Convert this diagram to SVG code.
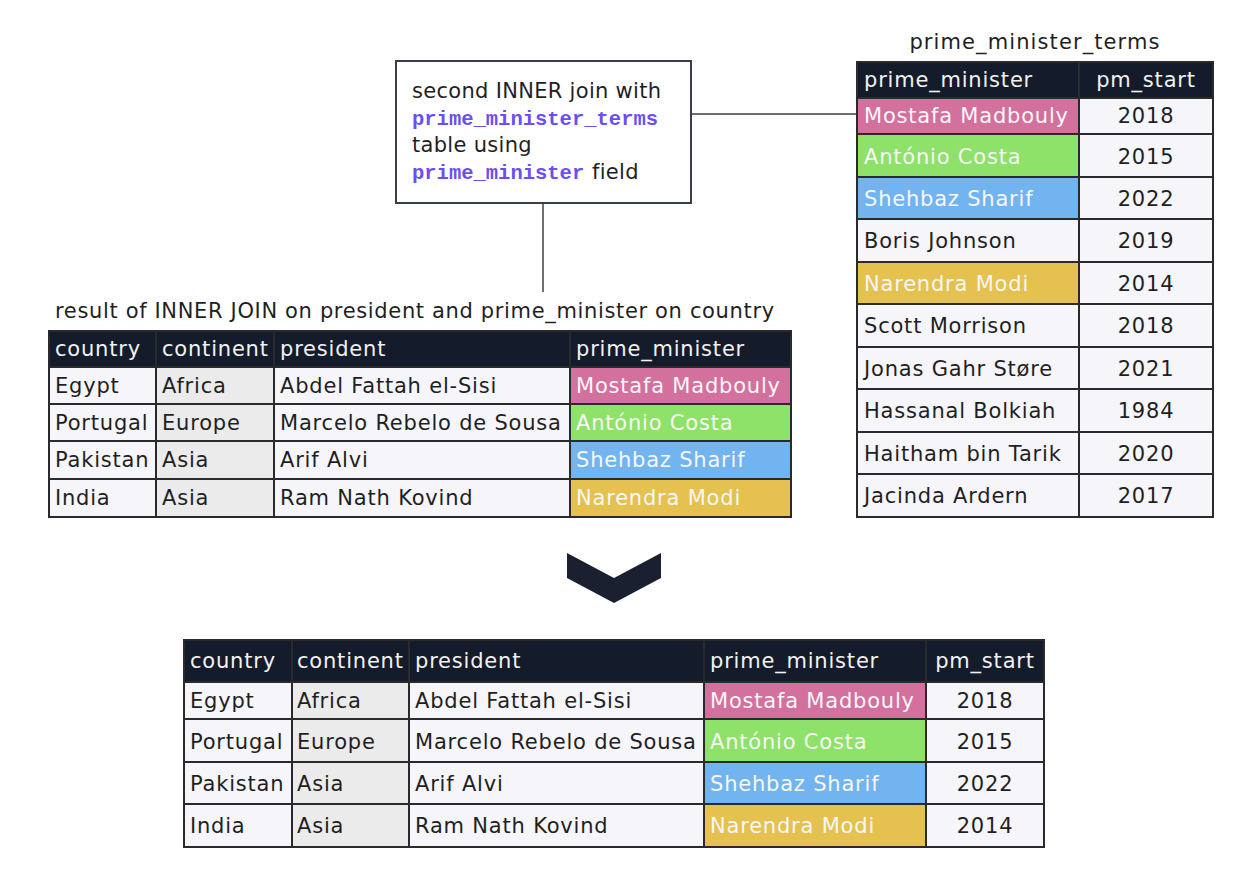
<svg xmlns="http://www.w3.org/2000/svg" width="1248" height="894" viewBox="0 0 1248 894">
<style>
text{font-family:"DejaVu Sans","Liberation Sans",sans-serif;font-size:21px;letter-spacing:0.8px;fill:#1f1f1f}
.h{fill:#f2f2f2}
.w{fill:#f7f7f7}
.c{text-anchor:middle}
.mono{font-family:"Liberation Mono","DejaVu Sans Mono",monospace;font-size:20.5px;font-weight:bold;fill:#6b4ef5;letter-spacing:0}
.cell{fill:#f5f5fa}
.alt{fill:#ebebeb}
.hdr{fill:#141b2a}
.pink{fill:#d4709d}
.green{fill:#8ee26a}
.blue{fill:#72b4f0}
.yellow{fill:#e5c14f}
.grid{stroke:#2a2a2a;stroke-width:2;fill:none}
.conn{stroke:#707070;stroke-width:2;fill:none}
</style>
<rect width="1248" height="894" fill="#ffffff"/>

<g id="connectors">
<line class="conn" x1="691" y1="114" x2="857" y2="114"/>
<line class="conn" x1="543" y1="203" x2="543" y2="292"/>
</g>

<g id="callout">
<rect x="396" y="61" width="295" height="142" fill="#ffffff" stroke="#3a3f4a" stroke-width="2"/>
<text x="412" y="98" style="letter-spacing:0.3px">second INNER join with</text>
<text x="412" y="125" class="mono">prime_minister_terms</text>
<text x="412" y="152" style="letter-spacing:0.3px">table using</text>
<text x="412" y="179" class="mono">prime_minister</text>
<text x="592" y="179" style="letter-spacing:0.3px">field</text>
</g>

<g id="pm_terms">
<text x="1035" y="49" class="c" style="letter-spacing:1.1px">prime_minister_terms</text>
<rect x="857" y="62" width="356" height="36" class="hdr"/>
<rect x="857" y="98" width="222" height="419" class="cell"/>
<rect x="1079" y="98" width="134" height="419" class="cell"/>
<rect x="857" y="98" width="222" height="36" class="pink"/>
<rect x="857" y="134" width="222" height="43" class="green"/>
<rect x="857" y="177" width="222" height="42" class="blue"/>
<rect x="857" y="262" width="222" height="42" class="yellow"/>
<path class="grid" d="M857 98H1213M857 134H1213M857 177H1213M857 219H1213M857 262H1213M857 304H1213M857 347H1213M857 389H1213M857 432H1213M857 474H1213M1079 62V517"/>
<rect x="857" y="62" width="356" height="455" class="grid"/>
<text x="864" y="87" class="h">prime_minister</text>
<text x="1146" y="87" class="h c">pm_start</text>
<text x="864" y="123" class="w">Mostafa Madbouly</text>
<text x="864" y="164" class="w">António Costa</text>
<text x="864" y="206" class="w">Shehbaz Sharif</text>
<text x="864" y="248">Boris Johnson</text>
<text x="864" y="291" class="w">Narendra Modi</text>
<text x="864" y="333">Scott Morrison</text>
<text x="864" y="376">Jonas Gahr Støre</text>
<text x="864" y="418">Hassanal Bolkiah</text>
<text x="864" y="461">Haitham bin Tarik</text>
<text x="864" y="503">Jacinda Ardern</text>
<text x="1146" y="123" class="c">2018</text>
<text x="1146" y="164" class="c">2015</text>
<text x="1146" y="206" class="c">2022</text>
<text x="1146" y="248" class="c">2019</text>
<text x="1146" y="291" class="c">2014</text>
<text x="1146" y="333" class="c">2018</text>
<text x="1146" y="376" class="c">2021</text>
<text x="1146" y="418" class="c">1984</text>
<text x="1146" y="461" class="c">2020</text>
<text x="1146" y="503" class="c">2017</text>
</g>

<g id="join_result">
<text x="55" y="318" style="letter-spacing:0.65px">result of INNER JOIN on president and prime_minister on country</text>
<rect x="49" y="331" width="742" height="36" class="hdr"/>
<rect x="49" y="367" width="521" height="150" class="cell"/>
<rect x="156" y="367" width="118" height="150" class="alt"/>
<rect x="570" y="367" width="221" height="37" class="pink"/>
<rect x="570" y="404" width="221" height="37" class="green"/>
<rect x="570" y="441" width="221" height="38" class="blue"/>
<rect x="570" y="479" width="221" height="38" class="yellow"/>
<path class="grid" d="M49 367H791M49 404H791M49 441H791M49 479H791M156 331V517M274 331V517M570 331V517"/>
<rect x="49" y="331" width="742" height="186" class="grid"/>
<text x="55" y="356" class="h">country</text>
<text x="162" y="356" class="h">continent</text>
<text x="280" y="356" class="h">president</text>
<text x="576" y="356" class="h">prime_minister</text>
<text x="55" y="393">Egypt</text>
<text x="55" y="430">Portugal</text>
<text x="55" y="467">Pakistan</text>
<text x="55" y="505">India</text>
<text x="162" y="393">Africa</text>
<text x="162" y="430">Europe</text>
<text x="162" y="467">Asia</text>
<text x="162" y="505">Asia</text>
<text x="280" y="393">Abdel Fattah el-Sisi</text>
<text x="280" y="430">Marcelo Rebelo de Sousa</text>
<text x="280" y="467">Arif Alvi</text>
<text x="280" y="505">Ram Nath Kovind</text>
<text x="576" y="393" class="w">Mostafa Madbouly</text>
<text x="576" y="430" class="w">António Costa</text>
<text x="576" y="467" class="w">Shehbaz Sharif</text>
<text x="576" y="505" class="w">Narendra Modi</text>
</g>

<g id="arrow">
<polygon points="567,553 614,578 661,553 661,578 614,603 567,578" fill="#1b2030"/>
</g>

<g id="final_result">
<rect x="184" y="640" width="860" height="42" class="hdr"/>
<rect x="184" y="682" width="860" height="165" class="cell"/>
<rect x="292" y="682" width="117" height="165" class="alt"/>
<rect x="704" y="682" width="222" height="37" class="pink"/>
<rect x="704" y="719" width="222" height="43" class="green"/>
<rect x="704" y="762" width="222" height="42" class="blue"/>
<rect x="704" y="804" width="222" height="43" class="yellow"/>
<path class="grid" d="M184 682H1044M184 719H1044M184 762H1044M184 804H1044M292 640V847M409 640V847M704 640V847M926 640V847"/>
<rect x="184" y="640" width="860" height="207" class="grid"/>
<text x="190" y="668" class="h">country</text>
<text x="297" y="668" class="h">continent</text>
<text x="415" y="668" class="h">president</text>
<text x="710" y="668" class="h">prime_minister</text>
<text x="985" y="668" class="h c">pm_start</text>
<text x="190" y="708">Egypt</text>
<text x="190" y="749">Portugal</text>
<text x="190" y="791">Pakistan</text>
<text x="190" y="833">India</text>
<text x="297" y="708">Africa</text>
<text x="297" y="749">Europe</text>
<text x="297" y="791">Asia</text>
<text x="297" y="833">Asia</text>
<text x="415" y="708">Abdel Fattah el-Sisi</text>
<text x="415" y="749">Marcelo Rebelo de Sousa</text>
<text x="415" y="791">Arif Alvi</text>
<text x="415" y="833">Ram Nath Kovind</text>
<text x="710" y="708" class="w">Mostafa Madbouly</text>
<text x="710" y="749" class="w">António Costa</text>
<text x="710" y="791" class="w">Shehbaz Sharif</text>
<text x="710" y="833" class="w">Narendra Modi</text>
<text x="985" y="708" class="c">2018</text>
<text x="985" y="749" class="c">2015</text>
<text x="985" y="791" class="c">2022</text>
<text x="985" y="833" class="c">2014</text>
</g>
</svg>
